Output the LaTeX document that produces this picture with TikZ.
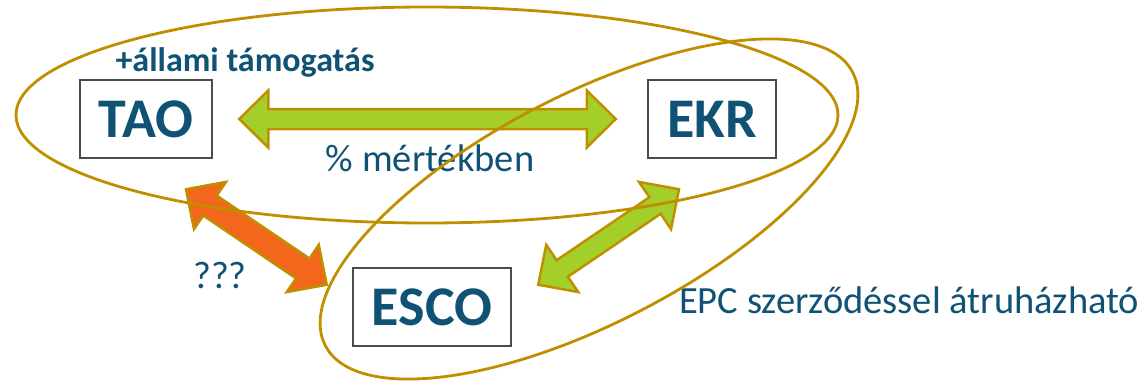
\documentclass[tikz,border=0pt]{standalone}
\usepackage{fontspec}
\setmainfont{Carlito}
\usetikzlibrary{positioning,calc}
\definecolor{txtblue}{RGB}{16,82,116}
\definecolor{gold}{RGB}{191,143,0}
\definecolor{lime}{RGB}{164,206,42}
\definecolor{rust}{RGB}{242,103,28}
% fat double arrow: from, to, fill, half shaft width
\newcommand{\fatarrow}[4]{%
  \coordinate (ha) at ($(#1)!29pt!(#2)$);
  \coordinate (hb) at ($(#2)!29pt!(#1)$);
  \filldraw[arrline,fill=#3] (#1) -- ($(ha)!28.5pt!90:(#2)$) -- ($(ha)!#4!90:(#2)$)
    -- ($(hb)!#4!-90:(#1)$) -- ($(hb)!28.5pt!-90:(#1)$) -- (#2)
    -- ($(hb)!28.5pt!90:(#1)$) -- ($(hb)!#4!90:(#1)$) -- ($(ha)!#4!-90:(#2)$)
    -- ($(ha)!28.5pt!-90:(#2)$) -- cycle;}

\begin{document}
\begin{tikzpicture}[x=1pt,y=1pt,
  box/.style={draw=black!70,line width=2.5pt,minimum height=78pt,text=txtblue,font=\fontsize{56}{64}\selectfont\bfseries},
  lbl/.style={text=txtblue,font=\fontsize{38.5}{44}\selectfont,inner sep=0pt},
  arrline/.style={draw=gold,line width=2.5pt,miter limit=20},
  ring/.style={draw=gold,line width=2.8pt}]
\useasboundingbox (0,0) rectangle (1145,384);
\node[box,minimum width=132pt] (tao) at (146,265) {TAO};
\node[box,minimum width=128pt] (ekr) at (712,265) {EKR};
\node[box,minimum width=158pt] (esco) at (432,77) {ESCO};
\node[lbl,font=\fontsize{34}{40}\selectfont\bfseries] (allami) at (245,322) {+állami támogatás};
% arrow ends
\coordinate (te) at ($(tao.east)+(26,0)$);
\coordinate (ew) at ($(ekr.west)+(-31,0)$);
\coordinate (ts) at ($(tao.south)+(40,-30)$);
\coordinate (sw) at ($(esco.north west)+(-25,-18)$);
\coordinate (se) at ($(esco.north east)+(26,-18)$);
\coordinate (es) at ($(ekr.south)+(-33,-30)$);
\fatarrow{te}{ew}{lime}{10pt}
\fatarrow{ts}{sw}{rust}{12pt}
\fatarrow{se}{es}{lime}{10pt}
\node[lbl] (pct) at (430,226) {\% mértékben};
\node[lbl] (qqq) at (220,109) {???};
\node[lbl,anchor=base west] (epc) at (679,71) {EPC szerződéssel átruházható};
% groups
\draw[ring] (427,269) ellipse [x radius=411,y radius=108];
\draw[ring,rotate around={27.4:(589,175)}] (589,175) ellipse [x radius=297,y radius=114];
\end{tikzpicture}
\end{document}
